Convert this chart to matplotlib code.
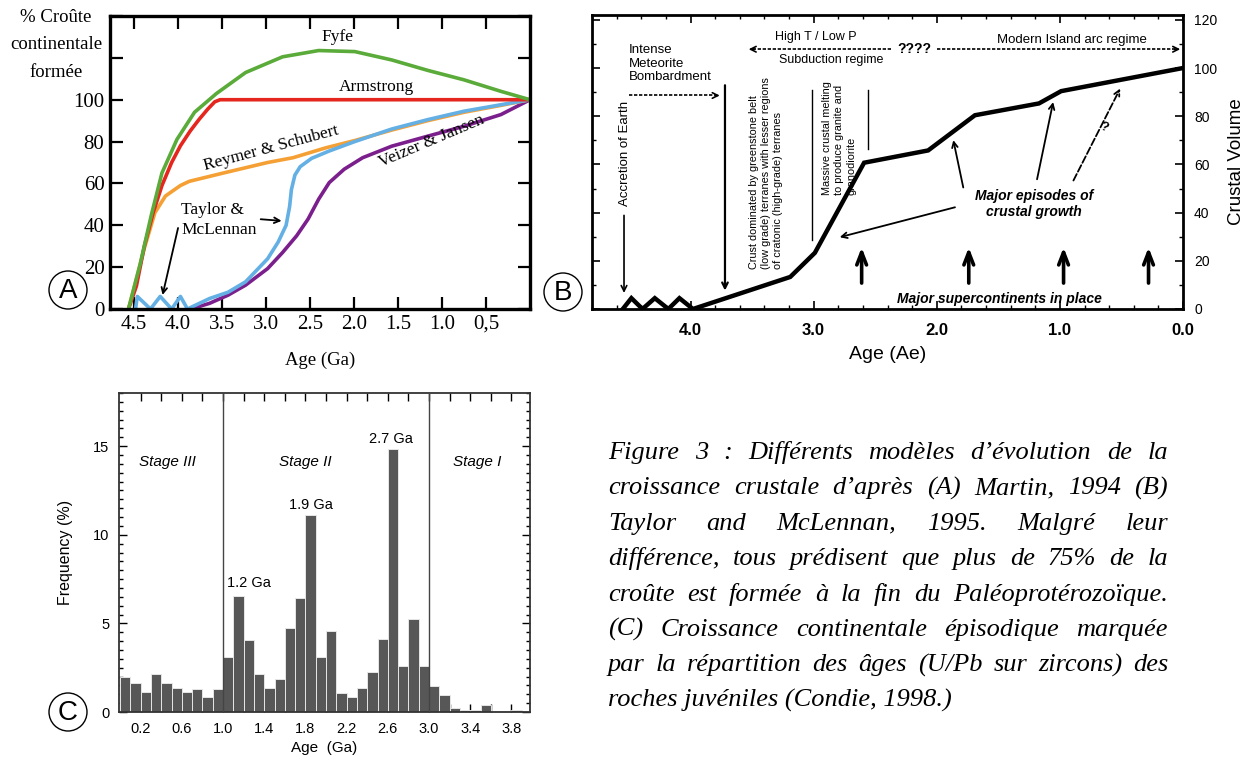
import matplotlib.pyplot as plt
from matplotlib.patches import Ellipse
from matplotlib.ticker import MultipleLocator, FixedLocator

# ---- A : modèles de croissance crustale (% croûte formée vs âge, Ga)
fyfe_age = [4.56, 4.43, 4.30, 4.18, 4.01, 3.81, 3.56, 3.23, 2.81, 2.40, 1.99, 1.57, 1.16, 0.75, 0.33, 0.0]
fyfe_val = [0, 21, 45, 65, 81, 94, 103, 113, 120.5, 123.5, 123, 119, 114, 109.5, 104, 100]

armstrong_age = [4.56, 4.47, 4.38, 4.28, 4.18, 4.07, 3.97, 3.86, 3.76, 3.66, 3.58, 3.52, 0.0]
armstrong_val = [0, 11, 30, 46, 59, 70, 78, 85, 90.5, 95.5, 99, 100, 100]

reymer_age = [4.56, 4.38, 4.26, 4.14, 3.97, 3.87, 3.48, 2.98, 2.69, 2.32, 1.99, 1.57, 1.16, 0.75, 0.33, 0.0]
reymer_val = [0, 29, 46, 54, 59, 61, 65, 70, 72.3, 77, 80.5, 85.5, 90, 94, 97.3, 100]

taylor_age = [4.48, 4.46, 4.31, 4.20, 4.07, 3.97, 3.89, 3.64, 3.43, 3.23, 2.98, 2.86, 2.77,
              2.73, 2.71, 2.67, 2.61, 2.48, 2.28, 1.99, 1.57, 1.16, 0.75, 0.33, 0.0]
taylor_val = [0, 6, 0, 6, 0, 6, 0, 5, 8, 13, 24, 32, 40,
              49, 57, 64, 68, 72, 75.5, 80, 86, 90.5, 94.5, 97.6, 100]

veizer_age = [3.85, 3.64, 3.43, 3.23, 2.98, 2.81, 2.65, 2.52, 2.40, 2.28, 2.11, 1.90, 1.57, 1.16, 0.75, 0.33, 0.0]
veizer_val = [0, 2.7, 6.6, 11.4, 19.3, 27, 35, 43, 52.5, 60.4, 66.8, 72.3, 77.8, 82.6, 87.3, 92.9, 100]

a_xticks = [4.5, 4.0, 3.5, 3.0, 2.5, 2.0, 1.5, 1.0, 0.5]
a_xlabels = ['4.5', '4.0', '3.5', '3.0', '2.5', '2.0', '1.5', '1.0', '0,5']
a_yticks = [0, 20, 40, 60, 80, 100, 120, 140]
a_ylabels = ['0', '20', '40', '60', '80', '100', '', '']

# ---- B : volume crustal (Taylor & McLennan, 1995)
b_age = [4.55, 4.48, 4.39, 4.29, 4.18, 4.09, 3.98, 3.19, 2.99, 2.59, 2.07, 1.69, 1.17, 0.99, 0.0]
b_vol = [0, 4.5, 0, 4.5, 0, 4.5, 0, 13.3, 23.3, 60.7, 65.8, 80.4, 85.3, 90.4, 100]
b_supercontinents = [2.61, 1.74, 0.97, 0.28]
b_xticks = [4.0, 3.0, 2.0, 1.0, 0.0]
b_xlabels = ['4.0', '3.0', '2.0', '1.0', '0.0']

# ---- C : histogramme des âges U/Pb (Condie, 1998), classes de 0.1 Ga
c_bin_start = [i / 10 for i in range(40)]
c_freq = [1.95, 1.62, 1.12, 2.17, 1.62, 1.38, 1.14, 1.29, 0.87, 1.32,
          3.1, 6.55, 4.05, 2.17, 1.35, 1.84, 4.72, 6.45, 11.1, 3.1,
          4.58, 1.08, 0.87, 1.33, 2.25, 4.1, 14.85, 2.57, 5.25, 2.57,
          1.45, 0.95, 0.25, 0.09, 0.12, 0.37, 0.05, 0.06, 0.13, 0.05]
c_xticks = [0.2, 0.6, 1.0, 1.4, 1.8, 2.2, 2.6, 3.0, 3.4, 3.8]
c_stages = ['Stage III', 'Stage II', 'Stage I']
c_peaks = ['1.2 Ga', '1.9 Ga', '2.7 Ga']

caption = [
    "Figure 3 : Différents modèles d’évolution de  la",
    "croissance crustale d’après (A) Martin, 1994 (B)",
    "Taylor and McLennan, 1995. Malgré leur",
    "différence, tous prédisent que plus de 75% de la",
    "croûte est formée à la fin du Paléoprotérozoïque.",
    "(C) Croissance continentale épisodique marquée",
    "par la répartition des âges (U/Pb sur zircons) des",
    "roches juvéniles (Condie, 1998.)",
]

W, H = 1248, 765
SERIF = 'Liberation Serif'
SANS = 'Liberation Sans'

fig = plt.figure(figsize=(W / 100, H / 100), dpi=100)


def box(x0, y0, x1, y1):
    # pixel box (top-left origin) -> figure fraction rect
    return [x0 / W, 1 - y1 / H, (x1 - x0) / W, (y1 - y0) / H]


def circle_label(cx, cy, letter):
    r = 19
    fig.add_artist(Ellipse((cx / W, 1 - cy / H), 2 * r / W, 2 * r / H,
                           transform=fig.transFigure, fill=False, lw=1.0, ec='k'))
    fig.text(cx / W, 1 - cy / H - 0.001, letter, ha='center', va='center',
             fontsize=20, family=SANS)


# ================= A =================
axA = fig.add_axes(box(110, 16, 530, 309))
axA.plot(veizer_age, veizer_val, color='#7b1f8c', lw=2.6)
axA.plot(reymer_age, reymer_val, color='#f5a034', lw=2.6)
axA.plot(taylor_age, taylor_val, color='#64b0e4', lw=2.6)
axA.plot(armstrong_age, armstrong_val, color='#e4261e', lw=2.6)
axA.plot(fyfe_age, fyfe_val, color='#5aab3a', lw=2.6)
axA.set_xlim(4.77, 0)
axA.set_ylim(0, 140)
axA.set_xticks(a_xticks)
axA.set_xticklabels(a_xlabels)
axA.set_yticks(a_yticks)
axA.set_yticklabels(a_ylabels)
axA.tick_params(direction='in', length=9, width=1.6, top=True, right=True,
                labelsize=15, pad=4)
for lab in axA.get_xticklabels() + axA.get_yticklabels():
    lab.set_family(SERIF)
for s in axA.spines.values():
    s.set_linewidth(2.4)

ta = dict(family=SERIF, fontsize=12.5, ha='center', va='center')
axA.text(2.19, 130, 'Fyfe', **ta)
axA.text(1.74, 106, 'Armstrong', **ta)
axA.text(2.94, 77, 'Reymer & Schubert', rotation=15, **ta)
axA.text(1.12, 80, 'Veizer & Jansen', rotation=23, **ta)
axA.text(3.96, 42.5, 'Taylor &\nMcLennan', family=SERIF, fontsize=12.5,
         ha='left', va='center', linespacing=1.35)
axA.annotate('', xy=(2.79, 42), xytext=(3.09, 43),
             arrowprops=dict(arrowstyle='->', lw=1.3, color='k'))
axA.annotate('', xy=(4.18, 5.4), xytext=(3.99, 40),
             arrowprops=dict(arrowstyle='->', lw=1.3, color='k'))
fig.text(56 / W, 1 - 9 / H, '% Croûte\ncontinentale\nformée',
         family=SERIF, fontsize=13.5, ha='center', va='top', linespacing=1.8)
axA.set_xlabel('Age (Ga)', family=SERIF, fontsize=13.5, labelpad=13)
circle_label(68, 290, 'A')

# ================= B =================
axB = fig.add_axes(box(592, 15, 1183, 309))
axB.plot(b_age, b_vol, color='k', lw=3.2, solid_joinstyle='miter')
axB.set_xlim(4.8, 0)
axB.set_ylim(0, 122)
axB.set_xticks(b_xticks)
axB.set_xticklabels(b_xlabels)
axB.xaxis.set_minor_locator(MultipleLocator(0.2))
axB.yaxis.set_major_locator(MultipleLocator(20))
axB.yaxis.set_minor_locator(MultipleLocator(10))
axB.yaxis.tick_right()
axB.tick_params(which='both', direction='in', top=True, left=True, right=True)
axB.tick_params(which='major', length=6, width=1.2)
axB.tick_params(which='minor', length=3, width=1.0)
axB.tick_params(axis='x', labelsize=12, pad=10)
axB.tick_params(axis='y', labelsize=10, pad=8)
for lab in axB.get_xticklabels():
    lab.set_family(SANS)
    lab.set_weight('bold')
for lab in axB.get_yticklabels():
    lab.set_family(SANS)
for s in axB.spines.values():
    s.set_linewidth(2.0)
axB.set_xlabel('Age (Ae)', family=SANS, fontsize=14, labelpad=6)
axB.yaxis.set_label_position('right')
axB.set_ylabel('Crustal Volume', family=SANS, fontsize=13.5, labelpad=8)

tb = dict(family=SANS, color='k')
axB.text(4.50, 101.8, 'Intense\nMeteorite\nBombardment', fontsize=9.5,
         ha='left', va='center', linespacing=1.2, **tb)
axB.plot([4.50, 3.80], [88.6, 88.6], color='k', lw=1.2, ls=(0, (2, 1)))
axB.annotate('', xy=(3.74, 88.6), xytext=(3.82, 88.6),
             arrowprops=dict(arrowstyle='->', lw=1.2, color='k'))
axB.annotate('', xy=(3.72, 6.5), xytext=(3.72, 94),
             arrowprops=dict(arrowstyle='->', lw=1.6, color='k'))
axB.text(4.53, 64.4, 'Accretion of Earth', rotation=90, fontsize=9.5,
         ha='center', va='center', **tb)
axB.annotate('', xy=(4.54, 5.5), xytext=(4.54, 40),
             arrowprops=dict(arrowstyle='->', lw=1.2, color='k'))
axB.text(3.39, 16.4, 'Crust dominated by greenstone belt\n'
                     '(low grade) terranes with lesser regions\n'
                     'of cratonic (high-grade) terranes',
         rotation=90, fontsize=7.8, ha='center', va='bottom',
         multialignment='left', linespacing=1.25, **tb)
axB.plot([3.01, 3.01], [28.8, 91], color='k', lw=1.0)
axB.text(2.79, 47.3, 'Massive crustal melting\nto produce granite and\ngranodiorite',
         rotation=90, fontsize=7.8, ha='center', va='bottom',
         multialignment='left', linespacing=1.25, **tb)
axB.plot([2.56, 2.56], [66.4, 91], color='k', lw=1.0)

axB.text(2.98, 113, 'High T / Low P', fontsize=9, ha='center', va='center', **tb)
axB.text(2.86, 103.4, 'Subduction regime', fontsize=9, ha='center', va='center', **tb)
axB.plot([2.37, 3.49], [107.8, 107.8], color='k', lw=1.2, ls=(0, (2, 1)))
axB.annotate('', xy=(3.55, 107.8), xytext=(3.46, 107.8),
             arrowprops=dict(arrowstyle='->', lw=1.2, color='k'))
axB.text(2.18, 107.8, '????', fontsize=10, fontweight='bold',
         ha='center', va='center', **tb)
axB.plot([2.0, 0.06], [107.8, 107.8], color='k', lw=1.2, ls=(0, (2, 1)))
axB.annotate('', xy=(0.0, 107.8), xytext=(0.09, 107.8),
             arrowprops=dict(arrowstyle='->', lw=1.2, color='k'))
axB.text(0.90, 111.6, 'Modern Island arc regime', fontsize=9.5,
         ha='center', va='center', **tb)

axB.text(1.21, 43.6, 'Major episodes of\ncrustal growth', fontsize=10,
         fontweight='bold', style='italic', ha='center', va='center',
         linespacing=1.15, **tb)
axB.annotate('', xy=(1.87, 71.2), xytext=(1.78, 49.3),
             arrowprops=dict(arrowstyle='->', lw=1.3, color='k'))
axB.annotate('', xy=(1.05, 87), xytext=(1.19, 52.7),
             arrowprops=dict(arrowstyle='->', lw=1.3, color='k'))
axB.annotate('', xy=(0.50, 92.5), xytext=(0.90, 52.3),
             arrowprops=dict(arrowstyle='->', lw=1.3, color='k', ls=(0, (4, 1.5))))
axB.text(0.64, 75.3, '?', fontsize=9, fontweight='bold', rotation=-20,
         ha='center', va='center', **tb)
axB.annotate('', xy=(2.81, 29.5), xytext=(1.83, 42.5),
             arrowprops=dict(arrowstyle='->', lw=1.3, color='k'))
for age in b_supercontinents:
    axB.annotate('', xy=(age, 26.7), xytext=(age, 9.6),
                 arrowprops=dict(arrowstyle='->,head_length=0.9,head_width=0.35',
                                 lw=2.6, color='k'))
axB.text(1.49, 4.1, 'Major supercontinents in place', fontsize=10,
         fontweight='bold', style='italic', ha='center', va='center', **tb)
circle_label(563, 292, 'B')

# ================= C =================
axC = fig.add_axes(box(119, 393, 530, 712))
axC.bar(c_bin_start, c_freq, width=0.1, align='edge', color='#575757',
        edgecolor='#e6e6e6', linewidth=0.7, zorder=2)
axC.axvline(1.0, color='#444444', lw=1.0, zorder=3)
axC.axvline(3.0, color='#444444', lw=1.0, zorder=3)
axC.set_xlim(-0.01, 3.98)
axC.set_ylim(0, 18)
axC.set_xticks(c_xticks)
axC.xaxis.set_minor_locator(FixedLocator([0.4, 0.8, 1.2, 1.6, 2.0, 2.4, 2.8, 3.2, 3.6]))
axC.yaxis.set_major_locator(FixedLocator([0, 5, 10, 15]))
axC.yaxis.set_minor_locator(MultipleLocator(0.5))
axC.tick_params(which='both', direction='in', top=True, right=True, width=1.0)
axC.tick_params(which='major', length=6)
axC.tick_params(which='minor', length=3)
axC.tick_params(axis='x', which='minor', length=6)
axC.tick_params(labelsize=10.5, pad=7)
for lab in axC.get_xticklabels() + axC.get_yticklabels():
    lab.set_family(SANS)
for s in axC.spines.values():
    s.set_linewidth(1.3)
    s.set_color('#333333')
axC.set_xlabel('Age  (Ga)', family=SANS, fontsize=11, labelpad=4)
axC.set_ylabel('Frequency (%)', family=SANS, fontsize=11.5, labelpad=14)
for x, s in zip([0.46, 1.80, 3.47], c_stages):
    axC.text(x, 14.1, s, family=SANS, fontsize=11, style='italic',
             ha='center', va='center')
for x, y, s in zip([1.25, 1.85, 2.63], [7.3, 11.7, 15.4], c_peaks):
    axC.text(x, y, s, family=SANS, fontsize=10.5, ha='center', va='center')
circle_label(68, 712, 'C')

# ================= légende justifiée =================
renderer = fig.canvas.get_renderer()
cap_kw = dict(family=SERIF, style='italic', fontsize=19, va='baseline')
x_left, x_right = 608 / W, 1168 / W
y0, dy = 1 - 459 / H, 35.4 / H
for i, line in enumerate(caption):
    y = y0 - i * dy
    if i == len(caption) - 1:
        fig.text(x_left, y, line, **cap_kw)
        continue
    words = line.split()
    texts = [fig.text(0, y, w, **cap_kw) for w in words]
    widths = [t.get_window_extent(renderer).width / W for t in texts]
    gap = (x_right - x_left - sum(widths)) / (len(words) - 1)
    x = x_left
    for t, w in zip(texts, widths):
        t.set_x(x)
        x += w + gap

fig.savefig('out.png', dpi=100)
